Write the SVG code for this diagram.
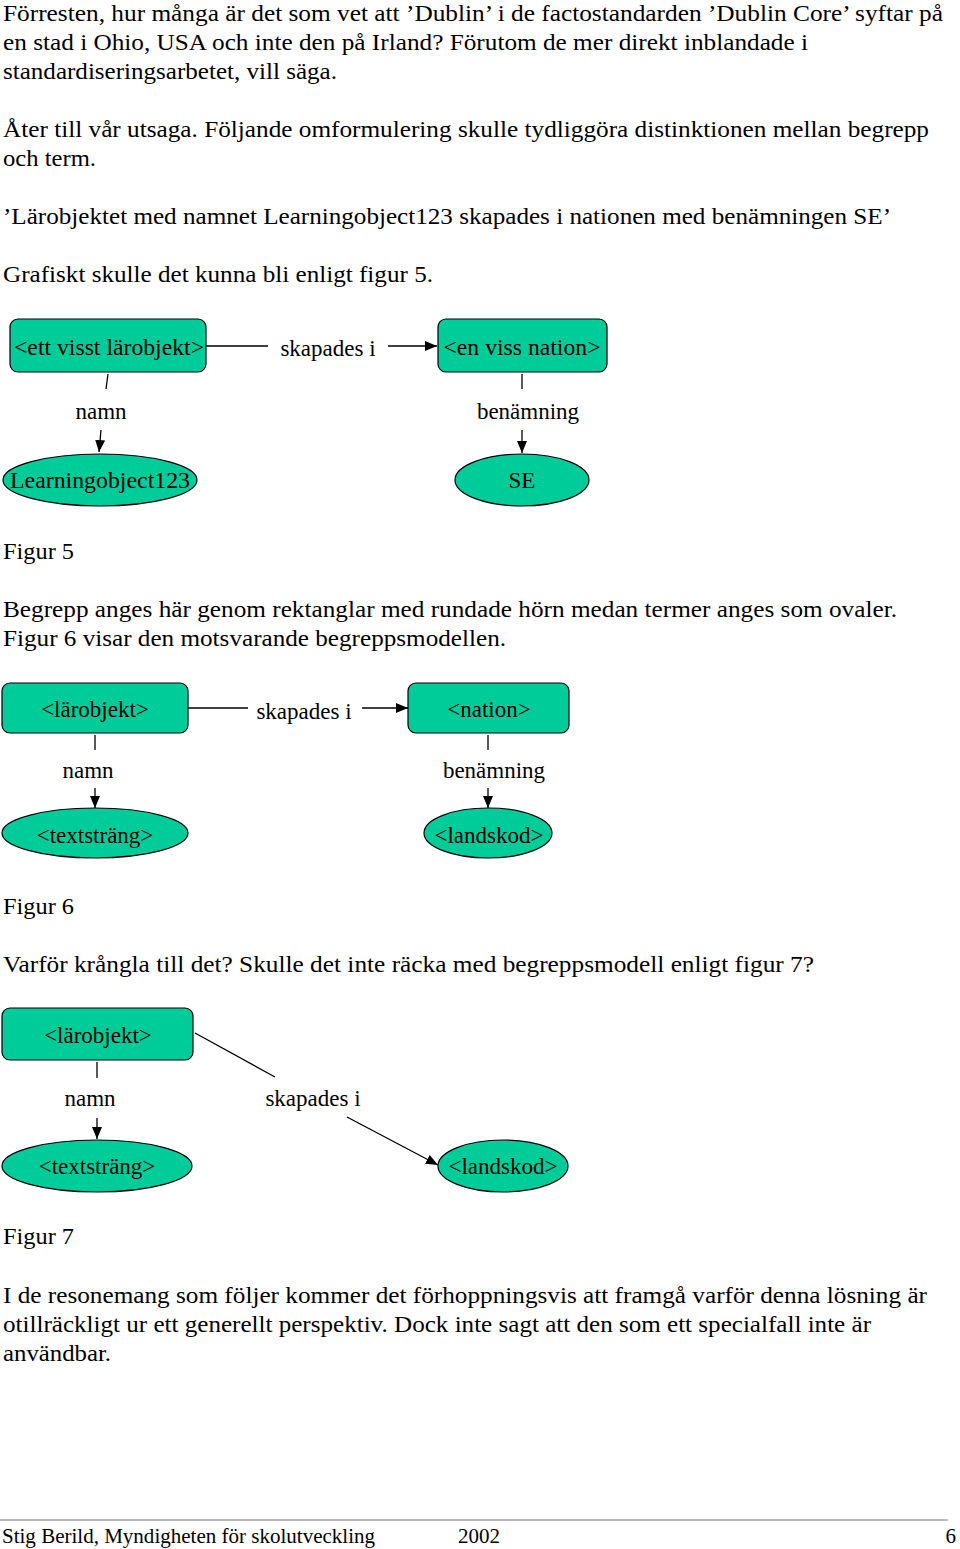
<svg xmlns="http://www.w3.org/2000/svg" width="960" height="1549" viewBox="0 0 960 1549">
<style>
.t{font-family:"Liberation Serif","Times New Roman",serif;font-size:24px;fill:#000}
.l{font-family:"Liberation Serif","Times New Roman",serif;font-size:23px;fill:#000;text-anchor:middle}
.f{font-family:"Liberation Serif","Times New Roman",serif;font-size:21px;fill:#000}
.n{fill:#00CC99;stroke:#000;stroke-width:1.2}
.c{fill:none;stroke:#000;stroke-width:1.3}
</style>
<defs>
<marker id="ah" viewBox="0 0 12 10" refX="12" refY="5" markerWidth="12" markerHeight="10" markerUnits="userSpaceOnUse" orient="auto">
<path d="M0,0 L12,5 L0,10 Z" fill="#000"/>
</marker>
</defs>
<rect width="960" height="1549" fill="#fff"/>
<g id="body">
<text class="t" x="3" y="21" textLength="940" lengthAdjust="spacingAndGlyphs">Förresten, hur många är det som vet att ’Dublin’ i de factostandarden ’Dublin Core’ syftar på</text>
<text class="t" x="3" y="50" textLength="805" lengthAdjust="spacingAndGlyphs">en stad i Ohio, USA och inte den på Irland? Förutom de mer direkt inblandade i</text>
<text class="t" x="3" y="79" textLength="334" lengthAdjust="spacingAndGlyphs">standardiseringsarbetet, vill säga.</text>
<text class="t" x="3" y="137" textLength="926" lengthAdjust="spacingAndGlyphs">Åter till vår utsaga. Följande omformulering skulle tydliggöra distinktionen mellan begrepp</text>
<text class="t" x="3" y="166" textLength="93" lengthAdjust="spacingAndGlyphs">och term.</text>
<text class="t" x="3" y="224" textLength="888" lengthAdjust="spacingAndGlyphs">’Lärobjektet med namnet Learningobject123 skapades i nationen med benämningen SE’</text>
<text class="t" x="3" y="282" textLength="430" lengthAdjust="spacingAndGlyphs">Grafiskt skulle det kunna bli enligt figur 5.</text>
<text class="t" x="3" y="559" textLength="71" lengthAdjust="spacingAndGlyphs">Figur 5</text>
<text class="t" x="3" y="617" textLength="894" lengthAdjust="spacingAndGlyphs">Begrepp anges här genom rektanglar med rundade hörn medan termer anges som ovaler.</text>
<text class="t" x="3" y="646" textLength="503" lengthAdjust="spacingAndGlyphs">Figur 6 visar den motsvarande begreppsmodellen.</text>
<text class="t" x="3" y="914" textLength="71" lengthAdjust="spacingAndGlyphs">Figur 6</text>
<text class="t" x="3" y="972" textLength="811" lengthAdjust="spacingAndGlyphs">Varför krångla till det? Skulle det inte räcka med begreppsmodell enligt figur 7?</text>
<text class="t" x="3" y="1244" textLength="71" lengthAdjust="spacingAndGlyphs">Figur 7</text>
<text class="t" x="3" y="1303" textLength="924" lengthAdjust="spacingAndGlyphs">I de resonemang som följer kommer det förhoppningsvis att framgå varför denna lösning är</text>
<text class="t" x="3" y="1332" textLength="868" lengthAdjust="spacingAndGlyphs">otillräckligt ur ett generellt perspektiv. Dock inte sagt att den som ett specialfall inte är</text>
<text class="t" x="3" y="1361" textLength="108" lengthAdjust="spacingAndGlyphs">användbar.</text>
</g>
<g id="connectors">
<line class="c" x1="206" y1="346" x2="268" y2="346"/>
<line class="c" x1="388" y1="346" x2="437" y2="346" marker-end="url(#ah)"/>
<line class="c" x1="108" y1="374" x2="106" y2="389"/>
<line class="c" x1="101" y1="430" x2="99" y2="452" marker-end="url(#ah)"/>
<line class="c" x1="522" y1="374" x2="522" y2="389"/>
<line class="c" x1="522" y1="430" x2="522" y2="453" marker-end="url(#ah)"/>
<line class="c" x1="188" y1="708" x2="248" y2="708"/>
<line class="c" x1="362" y1="708" x2="408" y2="708" marker-end="url(#ah)"/>
<line class="c" x1="95" y1="735" x2="95" y2="750"/>
<line class="c" x1="95" y1="788" x2="95" y2="808" marker-end="url(#ah)"/>
<line class="c" x1="488" y1="735" x2="488" y2="750"/>
<line class="c" x1="488" y1="788" x2="488" y2="808" marker-end="url(#ah)"/>
<line class="c" x1="195" y1="1033" x2="275" y2="1077"/>
<line class="c" x1="347" y1="1117" x2="438" y2="1165" marker-end="url(#ah)"/>
<line class="c" x1="97" y1="1062" x2="97" y2="1078"/>
<line class="c" x1="97" y1="1118" x2="97" y2="1139" marker-end="url(#ah)"/>
</g>
<g id="labels">
<text class="l" x="328" y="356">skapades i</text>
<text class="l" x="101" y="419">namn</text>
<text class="l" x="528" y="419">benämning</text>
<text class="l" x="304" y="719">skapades i</text>
<text class="l" x="88" y="778">namn</text>
<text class="l" x="494" y="778">benämning</text>
<text class="l" x="313" y="1106">skapades i</text>
<text class="l" x="90" y="1106">namn</text>
</g>
<g id="f5-larobjekt">
<rect class="n" x="10" y="319" width="196" height="53" rx="8"/>
<text class="l" x="109" y="355" textLength="190" lengthAdjust="spacingAndGlyphs">&lt;ett visst lärobjekt&gt;</text>
</g>
<g id="f5-nation">
<rect class="n" x="438" y="319" width="169" height="53" rx="8"/>
<text class="l" x="522" y="355" textLength="157" lengthAdjust="spacingAndGlyphs">&lt;en viss nation&gt;</text>
</g>
<g id="f5-learningobject">
<ellipse class="n" cx="100" cy="480" rx="97" ry="26"/>
<text class="l" x="100" y="488" textLength="180" lengthAdjust="spacingAndGlyphs">Learningobject123</text>
</g>
<g id="f5-se">
<ellipse class="n" cx="522" cy="480" rx="67" ry="26"/>
<text class="l" x="522" y="488">SE</text>
</g>
<g id="f6-larobjekt">
<rect class="n" x="2" y="683" width="186" height="50" rx="8"/>
<text class="l" x="95" y="717">&lt;lärobjekt&gt;</text>
</g>
<g id="f6-nation">
<rect class="n" x="408" y="683" width="161" height="50" rx="8"/>
<text class="l" x="489" y="717">&lt;nation&gt;</text>
</g>
<g id="f6-textstrang">
<ellipse class="n" cx="95" cy="833" rx="93" ry="25"/>
<text class="l" x="95" y="843">&lt;textsträng&gt;</text>
</g>
<g id="f6-landskod">
<ellipse class="n" cx="488" cy="833" rx="64" ry="25"/>
<text class="l" x="489" y="843">&lt;landskod&gt;</text>
</g>
<g id="f7-larobjekt">
<rect class="n" x="2" y="1008" width="191" height="52" rx="8"/>
<text class="l" x="98" y="1043">&lt;lärobjekt&gt;</text>
</g>
<g id="f7-textstrang">
<ellipse class="n" cx="97" cy="1166" rx="95" ry="26"/>
<text class="l" x="97" y="1174">&lt;textsträng&gt;</text>
</g>
<g id="f7-landskod">
<ellipse class="n" cx="503" cy="1166" rx="65" ry="26"/>
<text class="l" x="503" y="1174">&lt;landskod&gt;</text>
</g>
<g id="footer">
<line x1="0" y1="1520" x2="948" y2="1520" stroke="#777" stroke-width="1.2"/>
<text class="f" x="2" y="1543" textLength="373" lengthAdjust="spacingAndGlyphs">Stig Berild, Myndigheten för skolutveckling</text>
<text class="f" x="458" y="1543">2002</text>
<text class="f" x="956" y="1543" text-anchor="end">6</text>
</g>
</svg>
